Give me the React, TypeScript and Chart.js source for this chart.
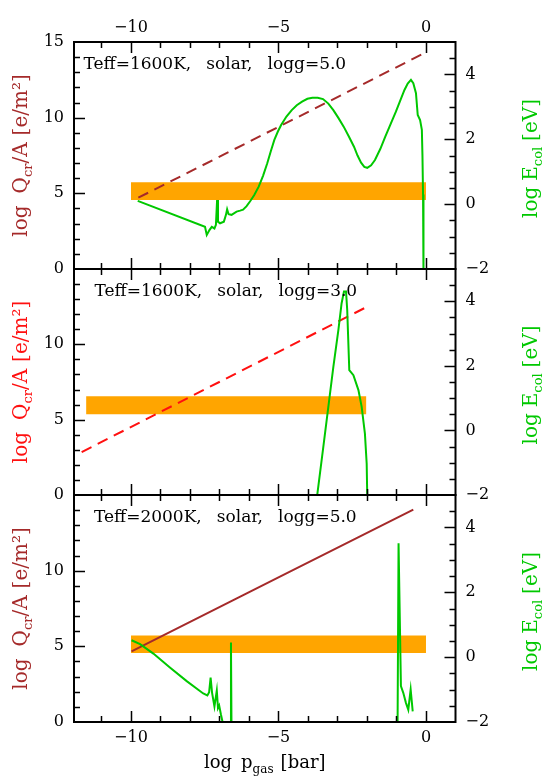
import React, { useEffect, useRef } from "react";
import { Chart, registerables } from "chart.js";

Chart.register(...registerables);

const FONT = "'DejaVu Serif', 'Liberation Serif', serif";
const GREEN = "#00c800";
const BROWN = "#a52a2a";
const RED = "#ff1010";
const ORANGE = "#ffa500";

// ---- shared axis ranges / ticks ----
const X_MIN = -11.93;
const X_MAX = 1.0;
const X_LABEL_STEP = 5;
const Q_MIN = 0;
const Q_MAX = 15;
const Q_LABEL_STEP = 5;
const E_MIN = -2;
const E_MAX = 5;
const E_LABEL_STEP = 2;

// ---- Panel 1: Teff=1600K, solar, logg=5.0 ----
const p1Title = "Teff=1600K, solar, logg=5.0";
const p1QcrX = [-9.75, -0.06];
const p1QcrY = [4.71, 14.26];
const p1EcolX = [-9.77, -7.49, -7.43, -7.34, -7.26, -7.17, -7.12, -7.08, -7.05, -6.98, -6.85, -6.78, -6.74, -6.69, -6.59, -6.42, -6.3, -6.2, -6.08, -5.96, -5.82, -5.67, -5.52, -5.38, -5.26, -5.14, -5.02, -4.91, -4.73, -4.55, -4.38, -4.2, -4.02, -3.85, -3.67, -3.49, -3.31, -3.14, -2.97, -2.79, -2.61, -2.44, -2.32, -2.2, -2.09, -1.99, -1.86, -1.73, -1.55, -1.38, -1.2, -1.02, -0.87, -0.73, -0.62, -0.51, -0.43, -0.34, -0.28, -0.2, -0.14, -0.12, -0.1, -0.09, -0.08];
const p1EcolY = [0.1, -0.7, -0.95, -0.8, -0.7, -0.75, -0.64, 0.13, -0.54, -0.59, -0.54, -0.33, -0.16, -0.31, -0.33, -0.23, -0.2, -0.17, -0.06, 0.09, 0.28, 0.54, 0.88, 1.26, 1.63, 1.98, 2.24, 2.44, 2.7, 2.9, 3.05, 3.16, 3.25, 3.28, 3.28, 3.24, 3.1, 2.9, 2.66, 2.39, 2.08, 1.77, 1.5, 1.28, 1.15, 1.12, 1.2, 1.36, 1.7, 2.08, 2.47, 2.85, 3.2, 3.52, 3.72, 3.83, 3.73, 3.42, 2.75, 2.59, 2.29, 1.5, 0.3, -1.0, -2.2];
const p1BandX = [-10, 0];
const p1BandLow = 4.56;
const p1BandHigh = 5.73;

// ---- Panel 2: Teff=1600K, solar, logg=3.0 ----
const p2Title = "Teff=1600K, solar, logg=3.0";
const p2QcrX = [-11.67, -2.02];
const p2QcrY = [2.85, 12.47];
const p2EcolX = [-3.7, -3.48, -3.31, -3.14, -2.97, -2.86, -2.78, -2.71, -2.67, -2.6, -2.46, -2.29, -2.18, -2.07, -2.01, -1.99];
const p2EcolY = [-2.1, -0.51, 0.73, 1.97, 3.11, 3.94, 4.3, 4.3, 3.73, 1.87, 1.71, 1.25, 0.73, -0.1, -1.03, -2.1];
const p2BandX = [-11.52, -2.02];
const p2BandLow = 5.36;
const p2BandHigh = 6.55;

// ---- Panel 3: Teff=2000K, solar, logg=5.0 ----
const p3Title = "Teff=2000K, solar, logg=5.0";
const p3QcrX = [-9.98, -5.0, -0.43];
const p3QcrY = [4.67, 9.55, 14.03];
const p3EcolX = [-9.98, -9.69, -9.24, -8.68, -8.11, -7.55, -7.41, -7.35, -7.3, -7.25, -7.17, -7.09, -7.05, -7.01, -6.95, -6.87, -6.8, -6.63, -6.61, -6.59, -6.4, -0.965, -0.93, -0.85, -0.77, -0.68, -0.6, -0.52, -0.45];
const p3EcolY = [0.52, 0.4, 0.11, -0.32, -0.74, -1.12, -1.18, -1.08, -0.63, -1.1, -1.52, -1.03, -1.57, -1.49, -1.77, -2.1, -2.4, -2.4, 0.45, -2.4, -2.4, -2.4, 3.51, -0.89, -1.1, -1.41, -1.62, -1.0, -1.67];
const p3BandX = [-10, 0];
const p3BandLow = 4.56;
const p3BandHigh = 5.72;

// ---- layout (pixels) ----
const W = 545;
const H = 782;
const PLOT_LEFT = 74;
const PLOT_RIGHT = 455.5;

type Seg = { t: string; sub?: boolean; gap?: number };

const zip = (xs: number[], ys: number[]) => xs.map((x, i) => ({ x, y: ys[i] }));

function drawRich(
  ctx: CanvasRenderingContext2D,
  segs: Seg[],
  size: number,
  subSize: number,
  subDy: number,
  x: number,
  y: number,
  rot: number,
  color: string,
  align: "center" | "left"
) {
  ctx.save();
  ctx.translate(x, y);
  ctx.rotate(rot);
  ctx.fillStyle = color;
  ctx.textBaseline = "alphabetic";
  ctx.textAlign = "left";
  const adv = segs.map((s) => {
    ctx.font = `${s.sub ? subSize : size}px ${FONT}`;
    return ctx.measureText(s.t).width + (s.gap || 0);
  });
  const total = adv.reduce((a, b) => a + b, 0) - (segs[segs.length - 1].gap || 0);
  let cx = align === "center" ? -total / 2 : 0;
  segs.forEach((s, i) => {
    ctx.font = `${s.sub ? subSize : size}px ${FONT}`;
    ctx.fillText(s.t, cx, s.sub ? subDy : 0);
    cx += adv[i];
  });
  ctx.restore();
}

const LEFT_TITLE: Seg[] = [
  { t: "log", gap: 12 },
  { t: "Q" },
  { t: "cr", sub: true },
  { t: "/A", gap: 7 },
  { t: "[e/m\u00b2]" },
];
const RIGHT_TITLE: Seg[] = [
  { t: "log", gap: 6 },
  { t: "E" },
  { t: "col", sub: true, gap: 6 },
  { t: "[eV]" },
];
const BOTTOM_TITLE: Seg[] = [
  { t: "log", gap: 9 },
  { t: "p" },
  { t: "gas", sub: true, gap: 7 },
  { t: "[bar]" },
];

type Panel = {
  title: string;
  qX: number[];
  qY: number[];
  qColor: string;
  qDash: number[];
  eX: number[];
  eY: number[];
  bandX: number[];
  bandLow: number;
  bandHigh: number;
  top: number;
  bottom: number;
  topLabels: boolean;
  bottomLabels: boolean;
  show15: boolean;
  textDx: number;
};

const PANELS: Panel[] = [
  {
    title: p1Title, qX: p1QcrX, qY: p1QcrY, qColor: BROWN, qDash: [11, 7],
    eX: p1EcolX, eY: p1EcolY,
    bandX: p1BandX, bandLow: p1BandLow, bandHigh: p1BandHigh,
    top: 42, bottom: 269, topLabels: true, bottomLabels: false, show15: true, textDx: 9.5,
  },
  {
    title: p2Title, qX: p2QcrX, qY: p2QcrY, qColor: RED, qDash: [11, 7],
    eX: p2EcolX, eY: p2EcolY,
    bandX: p2BandX, bandLow: p2BandLow, bandHigh: p2BandHigh,
    top: 269, bottom: 495, topLabels: false, bottomLabels: false, show15: false, textDx: 20.5,
  },
  {
    title: p3Title, qX: p3QcrX, qY: p3QcrY, qColor: BROWN, qDash: [],
    eX: p3EcolX, eY: p3EcolY,
    bandX: p3BandX, bandLow: p3BandLow, bandHigh: p3BandHigh,
    top: 495, bottom: 722, topLabels: false, bottomLabels: true, show15: false, textDx: 20,
  },
];

const minus = (v: number) => String(v).replace("-", "\u2212");

function makeConfig(p: Panel, idx: number): any {
  const tickFont = { family: FONT, size: 16 };
  const deco = {
    id: "deco" + idx,
    afterDatasetsDraw(chart: any) {
      const ctx: CanvasRenderingContext2D = chart.ctx;
      const a = chart.chartArea;
      const xs = chart.scales.x;
      const yl = chart.scales.y;
      const yr = chart.scales.y2;
      ctx.save();
      ctx.strokeStyle = "#000";
      ctx.lineWidth = 1.5;
      ctx.beginPath();
      for (let v = Math.ceil(X_MIN); v <= Math.floor(X_MAX) - 1; v++) {
        const px = Math.round(xs.getPixelForValue(v)) + 0.5;
        const len = v % 5 === 0 ? 11 : 6;
        ctx.moveTo(px, a.bottom);
        ctx.lineTo(px, a.bottom - len);
        ctx.moveTo(px, a.top);
        ctx.lineTo(px, a.top + len);
      }
      for (let v = Q_MIN + 1; v < Q_MAX; v++) {
        const py = Math.round(yl.getPixelForValue(v)) + 0.5;
        const len = v % 5 === 0 ? 11 : 6;
        ctx.moveTo(a.left, py);
        ctx.lineTo(a.left + len, py);
      }
      for (let v = E_MIN + 0.5; v < E_MAX; v += 0.5) {
        const py = Math.round(yr.getPixelForValue(v)) + 0.5;
        const len = Math.abs(v % 2) < 1e-9 ? 11 : 6;
        ctx.moveTo(a.right, py);
        ctx.lineTo(a.right - len, py);
      }
      ctx.stroke();
      ctx.lineWidth = 2;
      ctx.strokeRect(a.left, a.top, a.right - a.left, a.bottom - a.top);
      ctx.restore();

      // annotation
      const words = p.title.split(" ");
      const segs: Seg[] = words.map((w, i) => ({ t: w, gap: i < words.length - 1 ? 15 : 0 }));
      drawRich(ctx, segs, 17, 17, 0, a.left + p.textDx, a.top + 27, 0, "#000", "left");

      const mid = (a.top + a.bottom) / 2;
      drawRich(ctx, LEFT_TITLE, 20, 13, 5, 26.5, mid, -Math.PI / 2, p.qColor, "center");
      drawRich(ctx, RIGHT_TITLE, 20, 13, 5, 537, mid + 3, -Math.PI / 2, GREEN, "center");
      if (p.bottomLabels) {
        drawRich(ctx, BOTTOM_TITLE, 18, 12, 5, (a.left + a.right) / 2, 768, 0, "#000", "center");
      }
    },
  };

  const xTicks = {
    stepSize: X_LABEL_STEP,
    includeBounds: false,
    autoSkip: false,
    maxRotation: 0,
    font: tickFont,
    color: "#000",
    callback: (v: number) => minus(v),
  };

  return {
    type: "line",
    data: {
      datasets: [
        {
          data: zip(p.eX, p.eY),
          xAxisID: "x",
          yAxisID: "y2",
          borderColor: GREEN,
          borderWidth: 2,
          pointRadius: 0,
          fill: false,
          tension: 0,
          clip: 0,
        },
        {
          data: zip(p.qX, p.qY),
          xAxisID: "x",
          yAxisID: "y",
          borderColor: p.qColor,
          borderWidth: 2,
          borderDash: p.qDash,
          pointRadius: 0,
          fill: false,
          tension: 0,
          clip: 0,
        },
        {
          data: zip(p.bandX, p.bandX.map(() => p.bandHigh)),
          xAxisID: "x",
          yAxisID: "y",
          borderColor: "rgba(0,0,0,0)",
          borderWidth: 0,
          pointRadius: 0,
          backgroundColor: ORANGE,
          fill: "+1",
        },
        {
          data: zip(p.bandX, p.bandX.map(() => p.bandLow)),
          xAxisID: "x",
          yAxisID: "y",
          borderColor: "rgba(0,0,0,0)",
          borderWidth: 0,
          pointRadius: 0,
          fill: false,
        },
      ],
    },
    options: {
      animation: false,
      responsive: false,
      maintainAspectRatio: false,
      events: [],
      layout: {
        padding: {
          left: 0,
          right: 0,
          top: p.topLabels ? 0 : p.top,
          bottom: p.bottomLabels ? 0 : H - p.bottom,
        },
      },
      plugins: { legend: { display: false }, tooltip: { enabled: false } },
      scales: {
        x: {
          type: "linear",
          min: X_MIN,
          max: X_MAX,
          position: "bottom",
          display: p.bottomLabels,
          grid: { display: false, drawTicks: false },
          border: { display: false },
          ticks: { ...xTicks, padding: 6 },
          afterFit: (s: any) => {
            s.height = p.bottomLabels ? H - p.bottom : 0;
          },
        },
        xTop: {
          type: "linear",
          min: X_MIN,
          max: X_MAX,
          position: "top",
          display: p.topLabels,
          grid: { display: false, drawTicks: false },
          border: { display: false },
          ticks: { ...xTicks, padding: 5 },
          afterFit: (s: any) => {
            s.height = p.topLabels ? p.top : 0;
          },
        },
        y: {
          type: "linear",
          position: "left",
          min: Q_MIN,
          max: Q_MAX,
          grid: { display: false, drawTicks: false },
          border: { display: false },
          ticks: {
            stepSize: Q_LABEL_STEP,
            includeBounds: false,
            autoSkip: false,
            font: tickFont,
            color: "#000",
            padding: 10,
            callback: (v: number) => (v === Q_MAX && !p.show15 ? "" : minus(v)),
          },
          afterFit: (s: any) => {
            s.width = PLOT_LEFT;
          },
        },
        y2: {
          type: "linear",
          position: "right",
          min: E_MIN,
          max: E_MAX,
          grid: { display: false, drawTicks: false },
          border: { display: false },
          ticks: {
            stepSize: E_LABEL_STEP,
            includeBounds: false,
            autoSkip: false,
            font: tickFont,
            color: "#000",
            padding: 10,
            callback: (v: number) => minus(v),
          },
          afterFit: (s: any) => {
            s.width = W - PLOT_RIGHT;
          },
        },
      },
    },
    plugins: [deco],
  };
}

export default function App() {
  const r0 = useRef<HTMLCanvasElement>(null);
  const r1 = useRef<HTMLCanvasElement>(null);
  const r2 = useRef<HTMLCanvasElement>(null);

  useEffect(() => {
    const refs = [r0, r1, r2];
    const charts = refs.map((r, i) => new Chart(r.current as HTMLCanvasElement, makeConfig(PANELS[i], i)));
    return () => charts.forEach((c) => c.destroy());
  }, []);

  const style: React.CSSProperties = { position: "absolute", left: 0, top: 0, width: W, height: H };
  return (
    <div style={{ position: "fixed", left: 0, top: 0, width: W, height: H, background: "#fff" }}>
      <canvas ref={r0} width={W} height={H} style={style} />
      <canvas ref={r1} width={W} height={H} style={style} />
      <canvas ref={r2} width={W} height={H} style={style} />
    </div>
  );
}
